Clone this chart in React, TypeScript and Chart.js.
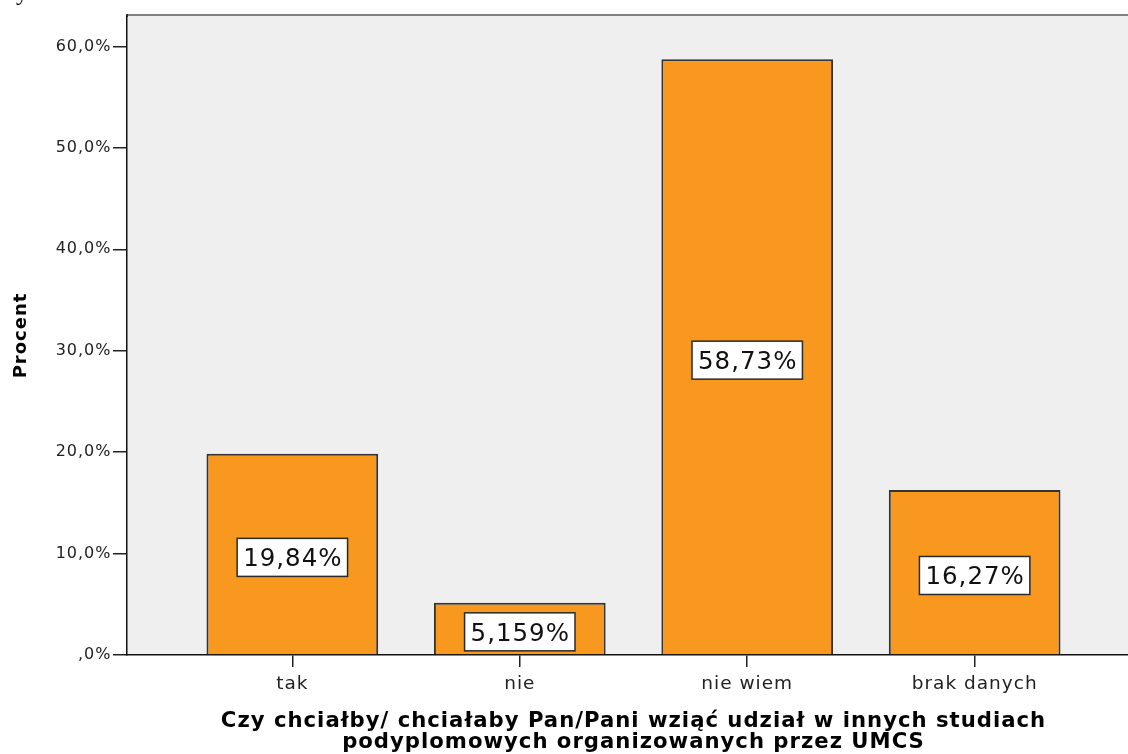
import React, { useEffect, useRef } from "react";
import { Chart, registerables } from "chart.js";

Chart.register(...registerables);

const categories = ["tak", "nie", "nie wiem", "brak danych"];
const percentValues = [19.84, 5.159, 58.73, 16.27];
const valueLabels = ["19,84%", "5,159%", "58,73%", "16,27%"];
const yTickValues = [0, 10, 20, 30, 40, 50, 60];
const yTickLabels = [",0%", "10,0%", "20,0%", "30,0%", "40,0%", "50,0%", "60,0%"];
const xTitleLines = [
  "Czy chciałby/ chciałaby Pan/Pani wziąć udział w innych studiach",
  "podyplomowych organizowanych przez UMCS",
];
const yTitle = "Procent";

const FONT = '"DejaVu Sans", sans-serif';
const SPACING = 1;

export default function App() {
  const ref = useRef<HTMLCanvasElement | null>(null);

  useEffect(() => {
    const canvas = ref.current;
    if (!canvas) return;

    const stylePlugin = {
      id: "spssStyle",
      beforeDraw(chart: any) {
        const { ctx, chartArea: a } = chart;
        ctx.save();
        ctx.fillStyle = "#efefef";
        ctx.fillRect(a.left, a.top, a.right - a.left, a.bottom - a.top);
        ctx.restore();
        ctx.letterSpacing = `${SPACING}px`;
      },
      afterDatasetsDraw(chart: any) {
        const { ctx } = chart;
        const meta = chart.getDatasetMeta(0);
        const yScale = chart.scales.y;
        ctx.save();
        ctx.letterSpacing = `${SPACING}px`;
        ctx.font = `24.5px ${FONT}`;
        meta.data.forEach((bar: any, i: number) => {
          const label = valueLabels[i];
          const cx = bar.x;
          const cy = yScale.getPixelForValue(percentValues[i] / 2) + 3;
          const w = ctx.measureText(label).width - SPACING;
          const bw = w + 12;
          const bh = 38;
          ctx.fillStyle = "#ffffff";
          ctx.fillRect(cx - bw / 2, cy - bh / 2, bw, bh);
          ctx.strokeStyle = "#2a2a2a";
          ctx.lineWidth = 1.5;
          ctx.strokeRect(cx - bw / 2, cy - bh / 2, bw, bh);
          ctx.fillStyle = "#111111";
          ctx.textAlign = "left";
          ctx.textBaseline = "alphabetic";
          ctx.fillText(label, cx - w / 2, cy + 9);
        });
        ctx.restore();
      },
      afterDraw(chart: any) {
        const { ctx, chartArea: a } = chart;
        ctx.save();
        ctx.strokeStyle = "#808080";
        ctx.lineWidth = 2;
        ctx.beginPath();
        ctx.moveTo(a.left - 0.75, a.top - 1);
        ctx.lineTo(chart.width, a.top - 1);
        ctx.stroke();
        ctx.strokeStyle = "#111111";
        ctx.lineWidth = 1.5;
        ctx.beginPath();
        ctx.moveTo(a.left, a.top - 2);
        ctx.lineTo(a.left, a.top + 1);
        ctx.stroke();
        ctx.restore();
        ctx.letterSpacing = "0px";
      },
    };

    const chart = new Chart(canvas, {
      type: "bar",
      data: {
        datasets: [
          {
            data: percentValues.map((v, i) => ({ x: i, y: v })),
            backgroundColor: "#f8981e",
            borderColor: "#333333",
            borderWidth: 2,
            categoryPercentage: 1,
            barPercentage: 0.755,
          } as any,
        ],
      },
      options: {
        responsive: false,
        animation: false,
        devicePixelRatio: 1,
        layout: { padding: { top: 16, right: 20, left: 0, bottom: 0 } },
        plugins: {
          legend: { display: false },
          tooltip: { enabled: false },
        },
        scales: {
          x: {
            type: "linear",
            bounds: "data",
            offset: false,
            min: -0.727,
            max: 3.727,
            z: 1,
            position: "bottom",
            afterBuildTicks: (s: any) => {
              s.ticks = categories.map((_, i) => ({ value: i }));
            },
            afterFit: (s: any) => {
              s.height = 99;
            },
            ticks: {
              callback: (v: any) => categories[Math.round(Number(v))] ?? "",
              font: { size: 18.5, family: FONT },
              color: "#222222",
              padding: 6,
              autoSkip: false,
              maxRotation: 0,
            },
            grid: {
              offset: false,
              drawOnChartArea: false,
              drawTicks: true,
              tickLength: 12,
              color: "#222222",
              lineWidth: 1.5,
            },
            border: { display: true, color: "#111111", width: 1.5 },
            title: {
              display: true,
              text: xTitleLines,
              font: { size: 21.2, weight: "bold", family: FONT, lineHeight: "21px" },
              color: "#000000",
              padding: { top: 0, bottom: 1 },
            },
          } as any,
          y: {
            type: "linear",
            bounds: "data",
            min: 0,
            max: 63,
            z: 1,
            afterBuildTicks: (s: any) => {
              s.ticks = yTickValues.map((v) => ({ value: v }));
            },
            afterFit: (s: any) => {
              s.width = 127;
            },
            ticks: {
              callback: (v: any) => {
                const idx = yTickValues.indexOf(Number(v));
                return idx >= 0 ? yTickLabels[idx] : "";
              },
              font: { size: 16, family: FONT },
              color: "#222222",
              padding: 1.5,
            },
            grid: {
              drawOnChartArea: false,
              drawTicks: true,
              tickLength: 14,
              color: "#222222",
              lineWidth: 1.5,
            },
            border: { display: true, color: "#111111", width: 1.5 },
            title: {
              display: true,
              text: yTitle,
              font: { size: 18, weight: "bold", family: FONT },
              color: "#000000",
              padding: { top: 11, bottom: 0 },
            },
          } as any,
        },
      },
      plugins: [stylePlugin],
    });

    return () => {
      chart.destroy();
    };
  }, []);

  return (
    <div
      style={{
        position: "fixed",
        left: 0,
        top: 0,
        width: 1128,
        height: 754,
        overflow: "hidden",
        background: "#ffffff",
      }}
    >
      <canvas
        ref={ref}
        width={1160}
        height={754}
        style={{ position: "absolute", left: 0, top: 0 }}
      />
      <span
        style={{
          position: "absolute",
          left: 16,
          top: -20,
          font: '24px "Liberation Serif", serif',
          lineHeight: "24px",
          color: "#000",
        }}
      >
        y
      </span>
    </div>
  );
}
